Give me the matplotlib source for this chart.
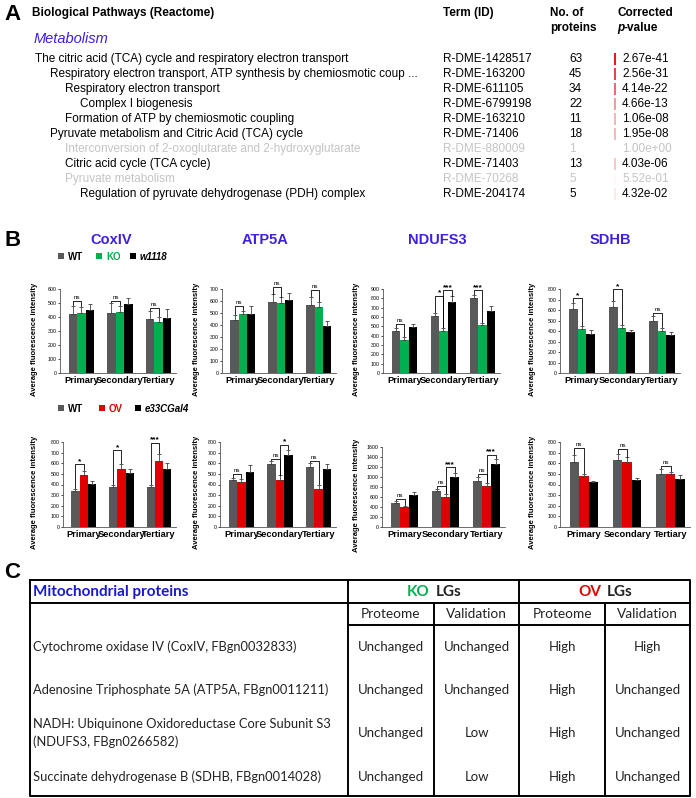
import matplotlib as mpl
mpl.use('Agg')
import matplotlib.pyplot as plt
import numpy as np
from matplotlib.patches import Rectangle

mpl.rcParams.update({'font.family': ['Liberation Sans', 'DejaVu Sans'],
                     'font.size': 8})

W, H = 696, 798

# ---------------- panel A data ----------------
pathways = ["The citric acid (TCA) cycle and respiratory electron transport",
            "Respiratory electron transport, ATP synthesis by chemiosmotic coup ...",
            "Respiratory electron transport",
            "Complex I biogenesis",
            "Formation of ATP by chemiosmotic coupling",
            "Pyruvate metabolism and Citric Acid (TCA) cycle",
            "Interconversion of 2-oxoglutarate and 2-hydroxyglutarate",
            "Citric acid cycle (TCA cycle)",
            "Pyruvate metabolism",
            "Regulation of pyruvate dehydrogenase (PDH) complex"]
levels = [0, 1, 2, 3, 2, 1, 2, 2, 2, 3]
term_ids = ["R-DME-1428517", "R-DME-163200", "R-DME-611105", "R-DME-6799198",
            "R-DME-163210", "R-DME-71406", "R-DME-880009", "R-DME-71403",
            "R-DME-70268", "R-DME-204174"]
n_proteins = [63, 45, 34, 22, 11, 18, 1, 13, 5, 5]
p_values = ["2.67e-41", "2.56e-31", "4.14e-22", "4.66e-13", "1.06e-08",
            "1.95e-08", "1.00e+00", "4.03e-06", "5.52e-01", "4.32e-02"]
greyed = [False, False, False, False, False, False, True, False, True, False]

# ---------------- panel B data ----------------
groups = ["Primary", "Secondary", "Tertiary"]
proteins = ["CoxIV", "ATP5A", "NDUFS3", "SDHB"]

# rows: WT, KO, w1118 ; columns: Primary, Secondary, Tertiary
coxiv_ko = [[420, 430, 385], [430, 435, 365], [450, 490, 395]]
coxiv_ko_err = [[60, 70, 60], [45, 45, 35], [40, 45, 60]]
atp5a_ko = [[445, 590, 565], [495, 580, 550], [495, 610, 395]]
atp5a_ko_err = [[40, 65, 70], [25, 50, 40], [65, 55, 35]]
ndufs3_ko = [[455, 615, 800], [355, 450, 510], [495, 760, 660]]
ndufs3_ko_err = [[30, 30, 40], [30, 30, 30], [30, 60, 60]]
sdhb_ko = [[610, 630, 495], [420, 430, 400], [375, 390, 365]]
sdhb_ko_err = [[60, 55, 50], [30, 30, 30], [30, 15, 25]]

# rows: WT, OV, e33CGal4
coxiv_ov = [[335, 380, 375], [490, 545, 625], [405, 510, 545]]
coxiv_ov_err = [[20, 20, 20], [40, 45, 60], [30, 40, 60]]
atp5a_ov = [[440, 590, 565], [420, 445, 360], [520, 675, 545]]
atp5a_ov_err = [[25, 35, 40], [30, 40, 40], [60, 50, 50]]
ndufs3_ov = [[480, 720, 920], [400, 600, 830], [650, 1000, 1260]]
ndufs3_ov_err = [[40, 50, 80], [30, 60, 60], [50, 90, 110]]
sdhb_ov = [[615, 630, 495], [480, 615, 495], [420, 440, 455]]
sdhb_ov_err = [[60, 55, 55], [20, 40, 20], [15, 20, 35]]

# significance: (group, bar a, bar b, level, label)
coxiv_ko_sig = [(0, 0, 1, 515, "ns"), (1, 0, 1, 515, "ns"), (2, 0, 1, 465, "ns")]
atp5a_ko_sig = [(0, 0, 1, 560, "ns"), (1, 0, 1, 715, "ns"), (2, 0, 1, 690, "ns")]
ndufs3_ko_sig = [(0, 0, 1, 520, "ns"), (1, 0, 1, 830, "*"), (1, 1, 2, 885, "***"),
                 (2, 0, 1, 885, "***")]
sdhb_ko_sig = [(0, 0, 1, 715, "*"), (1, 0, 1, 800, "*"), (2, 0, 1, 570, "ns")]
coxiv_ov_sig = [(0, 0, 1, 590, "*"), (1, 0, 1, 725, "*"), (2, 0, 1, 795, "***")]
atp5a_ov_sig = [(0, 0, 1, 495, "ns"), (1, 0, 1, 640, "ns"), (1, 1, 2, 775, "*"),
                (2, 0, 1, 620, "ns")]
ndufs3_ov_sig = [(0, 0, 1, 560, "ns"), (1, 0, 1, 820, "ns"), (1, 1, 2, 1200, "***"),
                 (2, 0, 1, 1060, "ns"), (2, 1, 2, 1450, "***")]
sdhb_ov_sig = [(0, 0, 1, 740, "ns"), (1, 0, 1, 735, "ns"), (2, 0, 1, 570, "ns")]

# ---------------- panel C data ----------------
mito_proteins = ["Cytochrome oxidase IV (CoxIV, FBgn0032833)",
                 "Adenosine Triphosphate 5A (ATP5A, FBgn0011211)",
                 "NADH: Ubiquinone Oxidoreductase Core Subunit S3\n(NDUFS3, FBgn0266582)",
                 "Succinate dehydrogenase B (SDHB, FBgn0014028)"]
ko_proteome = ["Unchanged", "Unchanged", "Unchanged", "Unchanged"]
ko_validation = ["Unchanged", "Unchanged", "Low", "Low"]
ov_proteome = ["High", "High", "High", "High"]
ov_validation = ["High", "Unchanged", "Unchanged", "Unchanged"]

fig = plt.figure(figsize=(W / 100, H / 100), dpi=100)
ov = fig.add_axes([0, 0, 1, 1])
ov.set_xlim(0, W)
ov.set_ylim(H, 0)
ov.axis('off')

# ---------- A ----------
fa = 8.5
ov.text(4, 14, "A", fontsize=16, fontweight='bold', va='center')
ov.text(32, 13, "Biological Pathways (Reactome)", fontsize=fa, fontweight='bold', va='center')
ov.text(443, 13, "Term (ID)", fontsize=fa, fontweight='bold', va='center')
ov.text(550, 13, "No. of", fontsize=fa, fontweight='bold', va='center')
ov.text(550, 28, "proteins", fontsize=fa, fontweight='bold', va='center')
ov.text(617, 13, "Corrected", fontsize=fa, fontweight='bold', va='center')
ov.text(617, 28, "p", fontsize=fa, fontweight='bold', style='italic', va='center')
ov.text(623.5, 28, "-value", fontsize=fa, fontweight='bold', va='center')
ov.text(34, 39, "Metabolism", fontsize=10.5, style='italic', color='#3b1fe0', va='center')

for i, name in enumerate(pathways):
    y = 59 + 15 * i
    col = '#c4c4c4' if greyed[i] else 'black'
    ov.text(35 + 15 * levels[i], y, name, fontsize=fa, color=col, va='center')
    ov.text(443, y, term_ids[i], fontsize=fa, color=col, va='center')
    ov.text(569, y, str(n_proteins[i]), fontsize=fa, color=col, va='center')
    ov.text(622, y, p_values[i], fontsize=fa, color=col, va='center')
    strength = -np.log10(float(p_values[i])) / 41
    if strength > 0:
        ov.add_patch(Rectangle((614, y - 6), 2, 12, color='#e41a1c',
                               alpha=min(1, strength ** 0.7), lw=0))

# ---------- B ----------
ov.text(4, 240, "B", fontsize=16, fontweight='bold', va='center')

ko_colors = ['#595959', '#00b050', '#000000']
ov_colors = ['#595959', '#e00000', '#000000']
width = 0.22


def draw_bars(box, means, errs, sigs, colors, ymax, step, ylab_x):
    left, right, top, bottom = box
    ax = fig.add_axes([left / W, 1 - bottom / H, (right - left) / W, (bottom - top) / H])
    x = np.arange(len(groups))
    means = np.array(means, dtype=float)
    errs = np.array(errs, dtype=float)
    for k in range(3):
        xs = x + (k - 1) * width
        ax.bar(xs, means[k], width=width, color=colors[k], zorder=2)
        ax.errorbar(xs, means[k], yerr=[np.zeros(3), errs[k]], fmt='none',
                    ecolor='#404040', elinewidth=0.6, capsize=1.2, capthick=0.6, zorder=3)
    for g, a, b, level, lab in sigs:
        xa = g + (a - 1) * width
        xb = g + (b - 1) * width
        ya = means[a][g] + errs[a][g] + ymax * 0.01
        yb = means[b][g] + errs[b][g] + ymax * 0.01
        ax.plot([xa, xa, xb, xb], [ya, level, level, yb], color='black', lw=0.6,
                clip_on=False, zorder=4)
        if lab == "ns":
            ax.text((xa + xb) / 2, level + ymax * 0.015, lab, fontsize=4.5,
                    ha='center', va='bottom', clip_on=False)
        else:
            ax.text((xa + xb) / 2, level - ymax * 0.01, lab, fontsize=6,
                    fontweight='bold', ha='center', va='bottom', clip_on=False)
    ax.set_xlim(-0.55, 2.45)
    ax.set_ylim(0, ymax)
    ax.set_yticks(np.arange(0, ymax + 1, step))
    ax.set_xticks(x)
    ax.set_xticklabels(groups, fontsize=6.7, fontweight='bold')
    ax.tick_params(axis='x', length=0, pad=2)
    ax.tick_params(axis='y', labelsize=3.8, length=1.5, width=0.5, pad=1)
    for s in ['top', 'right']:
        ax.spines[s].set_visible(False)
    for s in ['left', 'bottom']:
        ax.spines[s].set_linewidth(0.6)
        ax.spines[s].set_color('#555555')
    ax.patch.set_alpha(0)
    ov.text(ylab_x, (top + bottom) / 2 + 8, "Average fluorescence intensity",
            fontsize=5.5, fontweight='bold', rotation=90, ha='center', va='center')
    return ax


top_boxes = [(60, 176, 289, 373), (222, 336, 289, 373),
             (383, 500, 289, 373), (560, 680, 289, 373)]
bot_boxes = [(63, 176, 442, 527), (220, 336, 442, 527),
             (382, 505, 447, 527), (560, 690, 442, 527)]

draw_bars(top_boxes[0], coxiv_ko, coxiv_ko_err, coxiv_ko_sig, ko_colors, 600, 100, 34)
draw_bars(top_boxes[1], atp5a_ko, atp5a_ko_err, atp5a_ko_sig, ko_colors, 700, 100, 197)
draw_bars(top_boxes[2], ndufs3_ko, ndufs3_ko_err, ndufs3_ko_sig, ko_colors, 900, 100, 357)
draw_bars(top_boxes[3], sdhb_ko, sdhb_ko_err, sdhb_ko_sig, ko_colors, 800, 100, 533)

draw_bars(bot_boxes[0], coxiv_ov, coxiv_ov_err, coxiv_ov_sig, ov_colors, 800, 100, 34)
draw_bars(bot_boxes[1], atp5a_ov, atp5a_ov_err, atp5a_ov_sig, ov_colors, 800, 100, 197)
draw_bars(bot_boxes[2], ndufs3_ov, ndufs3_ov_err, ndufs3_ov_sig, ov_colors, 1600, 200, 357)
draw_bars(bot_boxes[3], sdhb_ov, sdhb_ov_err, sdhb_ov_sig, ov_colors, 800, 100, 533)

for name, cx in zip(proteins, [111, 265, 437, 610]):
    ov.text(cx, 240, name, fontsize=10.5, fontweight='bold', color='#4020e0',
            ha='center', va='center')

# legends
for (sx, label, col, ital) in [(58, "WT", '#595959', False), (96, "KO", '#00b050', False),
                               (130, "w1118", '#000000', True)]:
    ov.add_patch(Rectangle((sx, 253), 6, 6, color=col, lw=0))
    ov.text(sx + 10, 256.5, label, fontsize=7, fontweight='bold',
            color='#00b050' if label == "KO" else 'black',
            style='italic' if ital else 'normal', va='center')
for (sx, label, col, ital) in [(58, "WT", '#595959', False), (99, "OV", '#e00000', False),
                               (135, "e33CGal4", '#000000', True)]:
    ov.add_patch(Rectangle((sx, 405), 6, 6, color=col, lw=0))
    ov.text(sx + 10, 408.5, label, fontsize=7, fontweight='bold',
            color='#e00000' if label == "OV" else 'black',
            style='italic' if ital else 'normal', va='center')

# ---------- C ----------
ov.text(4, 573, "C", fontsize=16, fontweight='bold', va='center')
tf = 'Lato'
lw = 1.4
L, R, T, B = 30, 690, 580, 796
c1, c2, c3, c4 = 348, 434, 519, 605
r1, r2 = 603, 625
ov.plot([L, R, R, L, L], [T, T, B, B, T], color='black', lw=lw)
ov.plot([L, R], [r1, r1], color='black', lw=lw)
ov.plot([c1, R], [r2, r2], color='black', lw=lw)
for cx in [c1, c3]:
    ov.plot([cx, cx], [T, B], color='black', lw=lw)
for cx in [c2, c4]:
    ov.plot([cx, cx], [r1, B], color='black', lw=lw)

ov.text(33, 592, "Mitochondrial proteins", family=tf, fontsize=11, fontweight='bold',
        color='#1a1acc', va='center')
ov.text((c1 + c3) / 2 - 15, 592, "KO", family=tf, fontsize=11, fontweight='bold',
        color='#00b050', ha='center', va='center')
ov.text((c1 + c3) / 2 + 2, 592, "LGs", family=tf, fontsize=11, fontweight='bold',
        color='#222222', ha='left', va='center')
ov.text((c3 + R) / 2 - 15, 592, "OV", family=tf, fontsize=11, fontweight='bold',
        color='#e00000', ha='center', va='center')
ov.text((c3 + R) / 2 + 2, 592, "LGs", family=tf, fontsize=11, fontweight='bold',
        color='#222222', ha='left', va='center')

for (a, b), lab in zip([(c1, c2), (c2, c3), (c3, c4), (c4, R)],
                       ["Proteome", "Validation", "Proteome", "Validation"]):
    ov.text((a + b) / 2, 614, lab, family=tf, fontsize=9.8, color='#222222',
            ha='center', va='center')

row_y = [647, 690, 733, 777]
for i, y in enumerate(row_y):
    ov.text(33, y, mito_proteins[i], family=tf, fontsize=9.3, color='#222222',
            va='center', linespacing=1.5)
    for (a, b), vals in zip([(c1, c2), (c2, c3), (c3, c4), (c4, R)],
                            [ko_proteome, ko_validation, ov_proteome, ov_validation]):
        ov.text((a + b) / 2, y, vals[i], family=tf, fontsize=9.5, color='#222222',
                ha='center', va='center')

fig.savefig('out.png', dpi=100)
